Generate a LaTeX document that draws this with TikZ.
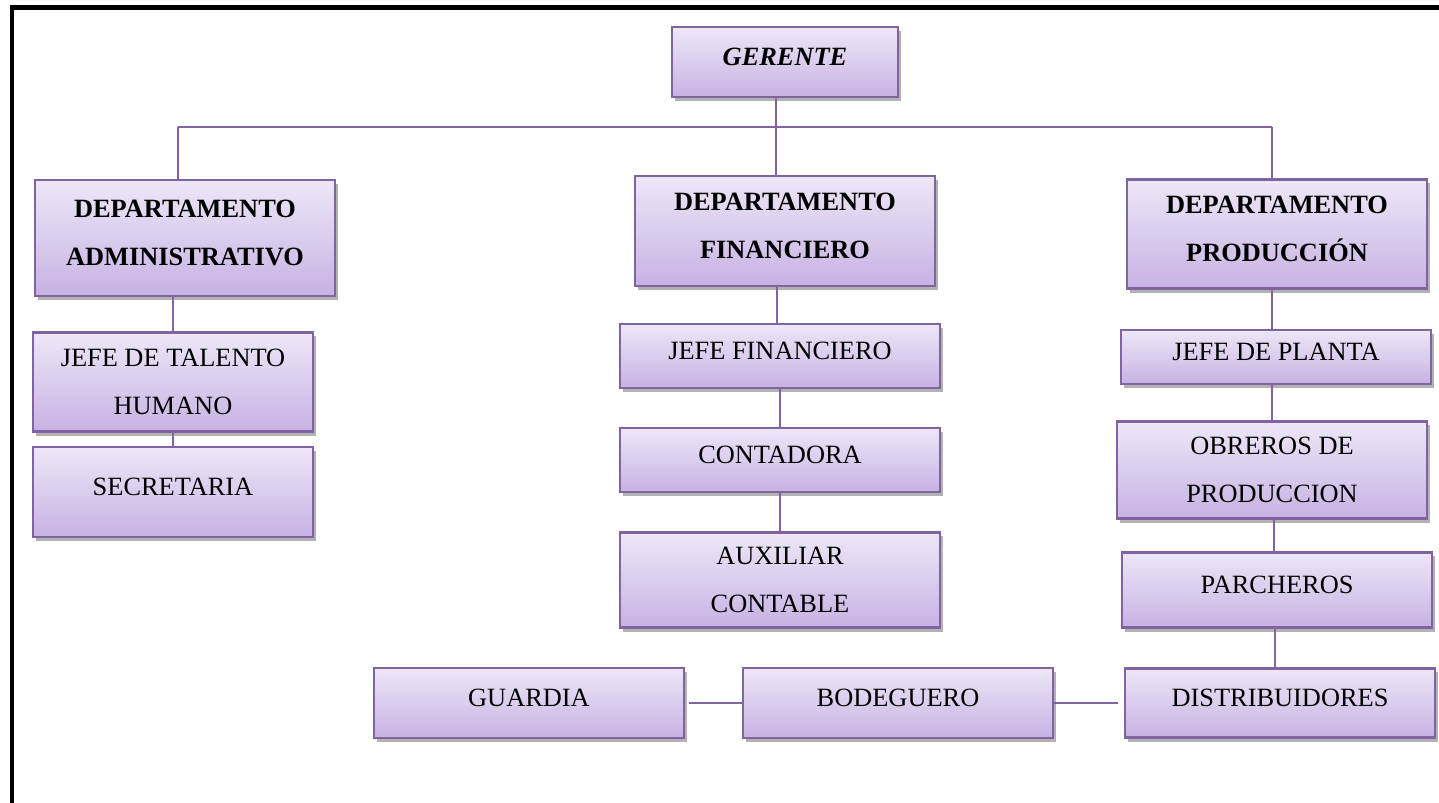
\documentclass[tikz,border=0pt]{standalone}
\usepackage{fontspec}
\setmainfont{Liberation Serif}
\usepackage{xcolor}
\usetikzlibrary{positioning,shadows}

\definecolor{boxline}{HTML}{8064A2}
\definecolor{lavtop}{HTML}{EDE7F7}
\definecolor{lavbot}{HTML}{C7B2E3}

\begin{document}
\begin{tikzpicture}
	[x=0.01cm,y=-0.01cm,
	box/.style={draw=boxline,line width=0.6pt,top color=lavtop,bottom color=lavbot,
		drop shadow={shadow xshift=0.03cm,shadow yshift=-0.04cm,fill=black,opacity=0.3},
		align=center,inner sep=0pt,text depth=0.1cm,font=\fontsize{7.5}{13.6}\selectfont},
	twoline/.style={text depth=0pt},
	conn/.style={draw=boxline,line width=0.6pt}]

	\useasboundingbox (0,0) rectangle (1439,803);
	\draw[line width=1.4pt] (1439,7.5) -- (12,7.5) -- (12,803);

	\node[box,minimum width=2.26cm,minimum height=0.70cm,font=\fontsize{7.5}{13.6}\selectfont\bfseries\itshape] (gerente) at (785,62) {GERENTE};

	\node[box,minimum width=3.00cm,minimum height=1.16cm,font=\fontsize{7.5}{13.6}\selectfont\bfseries] (admin) at (185,238) {DEPARTAMENTO\\ADMINISTRATIVO};
	\node[box,minimum width=3.00cm,minimum height=1.10cm,font=\fontsize{7.5}{13.6}\selectfont\bfseries] (fin) at (785,231) {DEPARTAMENTO\\FINANCIERO};
	\node[box,minimum width=3.00cm,minimum height=1.09cm,font=\fontsize{7.5}{13.6}\selectfont\bfseries] (prod) at (1277,234) {DEPARTAMENTO\\PRODUCCIÓN};

	\node[box,twoline,minimum width=2.80cm,minimum height=0.99cm] (talento) at (173,382) {JEFE DE TALENTO\\HUMANO};
	\node[box,minimum width=2.80cm,minimum height=0.90cm] (secretaria) at (173,492) {SECRETARIA};

	\node[box,minimum width=3.19cm,minimum height=0.64cm] (jfin) at (780,356) {JEFE FINANCIERO};
	\node[box,minimum width=3.19cm,minimum height=0.64cm] (contadora) at (780,460) {CONTADORA};
	\node[box,twoline,minimum width=3.19cm,minimum height=0.95cm] (auxiliar) at (780,580) {AUXILIAR\\CONTABLE};

	\node[box,minimum width=3.10cm,minimum height=0.54cm] (planta) at (1276,357) {JEFE DE PLANTA};
	\node[box,twoline,minimum width=3.10cm,minimum height=0.97cm] (obreros) at (1272,470) {OBREROS DE\\PRODUCCION};
	\node[box,minimum width=3.09cm,minimum height=0.75cm] (parcheros) at (1277,590) {PARCHEROS};
	\node[box,minimum width=3.10cm,minimum height=0.69cm] (distrib) at (1280,703) {DISTRIBUIDORES};

	\node[box,minimum width=3.10cm,minimum height=0.70cm] (guardia) at (529,703) {GUARDIA};
	\node[box,minimum width=3.10cm,minimum height=0.70cm] (bodeguero) at (898,703) {BODEGUERO};

	\coordinate (busl) at (178,127);
	\coordinate (busr) at (1272,127);

	\path[conn] (busl) -- (busr);
	\path[conn] (gerente.south -| 776,0) -- (fin.north -| 776,0);
	\path[conn] (busl) -- (admin.north -| busl);
	\path[conn] (busr) -- (prod.north -| busr);

	\path[conn] (admin.south -| talento.north) -- (talento.north);
	\path[conn] (talento) -- (secretaria);
	\path[conn] (fin.south -| 777,0) -- (jfin.north -| 777,0);
	\path[conn] (jfin) -- (contadora);
	\path[conn] (contadora) -- (auxiliar);
	\path[conn] (prod.south -| busr) -- (planta.north -| busr);
	\path[conn] (planta.south -| busr) -- (obreros.north -| busr);
	\path[conn] (obreros.south -| 1274,0) -- (parcheros.north -| 1274,0);
	\path[conn] (parcheros.south -| 1275,0) -- (distrib.north -| 1275,0);

	\path[conn,shorten <=0.04cm] (guardia) -- (bodeguero);
	\path[conn,shorten >=0.06cm] (bodeguero) -- (distrib);
\end{tikzpicture}
\end{document}
